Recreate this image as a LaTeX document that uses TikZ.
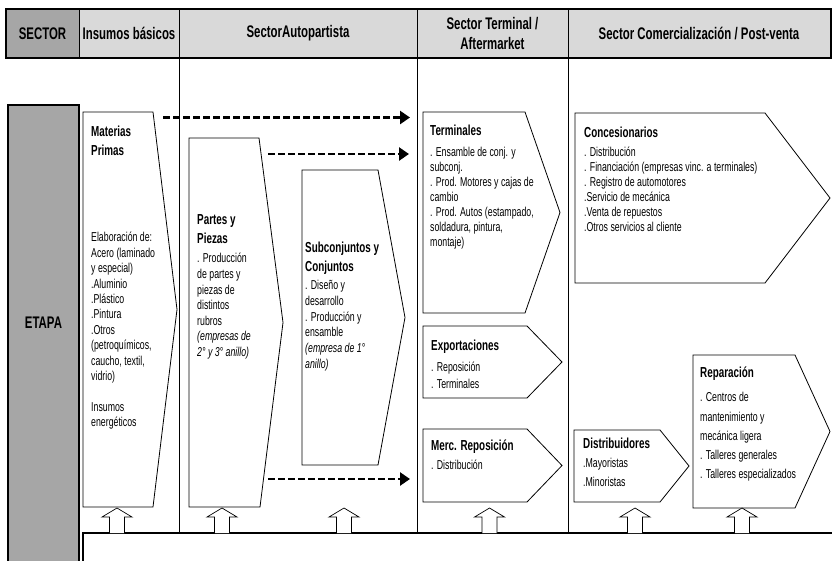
\documentclass[tikz,border=0pt]{standalone}
\usepackage{fontspec}
\setmainfont{Liberation Sans}[FakeStretch=0.68]
\usetikzlibrary{arrows.meta}

\definecolor{cabecera}{gray}{0.85}
\definecolor{oscuro}{gray}{0.65}

\begin{document}
\begin{tikzpicture}[x=1pt, y=-1pt,
  hdr/.style={font=\bfseries\fontsize{16.8}{20}\selectfont, align=center, inner sep=0pt},
  ttl/.style={font=\bfseries\fontsize{14.5}{19.5}\selectfont, align=left, inner sep=0pt, anchor=north west},
  txt/.style={font=\fontsize{12.9}{15.4}\selectfont, align=left, inner sep=0pt, anchor=north west},
  chevron/.style={draw=black, line width=0.8pt, fill=white},
  dasharrow/.style={line width=2.5pt, dash pattern=on 7pt off 3pt, -{Triangle[length=10pt,width=13pt]}},
  hueca/.style={draw=black, line width=0.7pt, fill=white}]
\useasboundingbox (0,0) rectangle (832,560);

  % cabecera
\fill[oscuro] (6,9) rectangle (79,58);
\fill[cabecera] (79,9) rectangle (831,58);
\draw[line width=1.5pt] (6,9) rectangle (831,58);
\foreach \x in {79,179,417,568}
  \draw[line width=1pt] (\x,9) -- (\x,58);
\node[hdr] (hSector) at (42.5,33.5) {SECTOR};
\node[hdr] (hInsumos) at (129,33.5) {Insumos básicos};
\node[hdr] (hAuto) at (298,33.5) {SectorAutopartista};
\node[hdr] (hTerm) at (492.5,33.5) {Sector Terminal /\\Aftermarket};
\node[hdr] (hComer) at (699,33.5) {Sector Comercialización / Post-venta};

  % columnas
\foreach \x in {179,417,568}
  \draw[line width=0.8pt] (\x,58) -- (\x,533);

  % etapa y base
\draw[line width=2pt, fill=oscuro] (8,105) rectangle (79,575);
\node[hdr] (etapa) at (43.5,323) {ETAPA};
\draw[line width=1.5pt, fill=white] (83,533) rectangle (845,575);

  % eslabones
\draw[chevron] (83,112) -- (153,112) -- (177,309.5) -- (153,507) -- (83,507) -- cycle;
\draw[chevron] (189,138) -- (259,138) -- (283,322.5) -- (260,507) -- (189,507) -- cycle;
\draw[chevron] (302,170) -- (378,170) -- (405,317.5) -- (378,465) -- (302,465) -- cycle;
\draw[chevron] (423,112) -- (525,112) -- (560,212.5) -- (525,313) -- (423,313) -- cycle;
\draw[chevron] (423,326) -- (527,326) -- (562,362) -- (527,398) -- (423,398) -- cycle;
\draw[chevron] (423,429) -- (527,429) -- (562,465.5) -- (527,502) -- (423,502) -- cycle;
\draw[chevron] (575,113) -- (765,113) -- (830,198) -- (765,283) -- (575,283) -- cycle;
\draw[chevron] (574,430) -- (660,430) -- (689,466) -- (660,502) -- (574,502) -- cycle;
\draw[chevron] (693,355) -- (795,355) -- (830,431.5) -- (795,508) -- (693,508) -- cycle;

  % textos
\node[ttl] (mpT) at (91,125.5) {Materias\\Primas};
\node[txt] (mpB) at (91,232.2) {Elaboración de:\\Acero (laminado\\y especial)\\.Aluminio\\.Plástico\\.Pintura\\.Otros\\(petroquímicos,\\caucho, textil,\\vidrio)\\[15.4pt]Insumos\\energéticos};
\node[ttl] (ppT) at (197,214) {Partes y\\Piezas};
\node[txt, font=\fontsize{12.9}{15.6}\selectfont] (ppB) at (197,253.2) {. Producción\\de partes y\\piezas de\\distintos\\rubros\\\textit{(empresas de}\\\textit{2° y 3° anillo)}};
\node[ttl] (scT) at (305,241.5) {Subconjuntos y\\Conjuntos};
\node[txt, font=\fontsize{12.9}{15.7}\selectfont] (scB) at (305,280.2) {. Diseño y\\desarrollo\\. Producción y\\ensamble\\\textit{(empresa de 1°}\\\textit{anillo)}};
\node[ttl] (tT) at (430,124.5) {Terminales};
\node[txt, font=\fontsize{12.9}{15}\selectfont] (tB) at (430,147.2) {. Ensamble de conj. y\\subconj.\\. Prod. Motores y cajas de\\cambio\\. Prod. Autos (estampado,\\soldadura, pintura,\\montaje)};
\node[ttl] (exT) at (431,339.5) {Exportaciones};
\node[txt, font=\fontsize{12.9}{17.5}\selectfont] (exB) at (431,361.7) {. Reposición\\. Terminales};
\node[ttl] (mrT) at (431,439.5) {Merc. Reposición};
\node[txt] (mrB) at (431,460.2) {. Distribución};
\node[ttl] (coT) at (584,126.5) {Concesionarios};
\node[txt, font=\fontsize{12.9}{15}\selectfont] (coB) at (584,147.2) {. Distribución\\. Financiación (empresas vinc. a terminales)\\. Registro de automotores\\.Servicio de mecánica\\.Venta de repuestos\\.Otros servicios al cliente};
\node[ttl] (diT) at (583,437.5) {Distribuidores};
\node[txt, font=\fontsize{12.9}{19.5}\selectfont] (diB) at (583,457.7) {.Mayoristas\\.Minoristas};
\node[ttl] (reT) at (700,366.5) {Reparación};
\node[txt, font=\fontsize{12.9}{19.3}\selectfont] (reB) at (700,392.2) {. Centros de\\mantenimiento y\\mecánica ligera\\. Talleres generales\\. Talleres especializados};

  % flechas punteadas
\coordinate (d1a) at (163,117.5);
\coordinate (d1b) at (410,117.5);
\coordinate (d2a) at (268,154);
\coordinate (d2b) at (409,154);
\coordinate (d3a) at (268,479);
\coordinate (d3b) at (410,479);
\draw[dasharrow] (d1a) -- (d1b);
\draw[dasharrow] (d2a) -- (d2b);
\draw[dasharrow] (d3a) -- (d3b);

  % flechas huecas
\foreach \x in {117,222,344,489.5,635,742}
{
  \draw[hueca] (\x-7.5,533) -- ++(0,-16) -- ++(-7.5,0) -- ++(15,-9) -- ++(15,9) -- ++(-7.5,0) -- ++(0,16);
}

\end{tikzpicture}
\end{document}
